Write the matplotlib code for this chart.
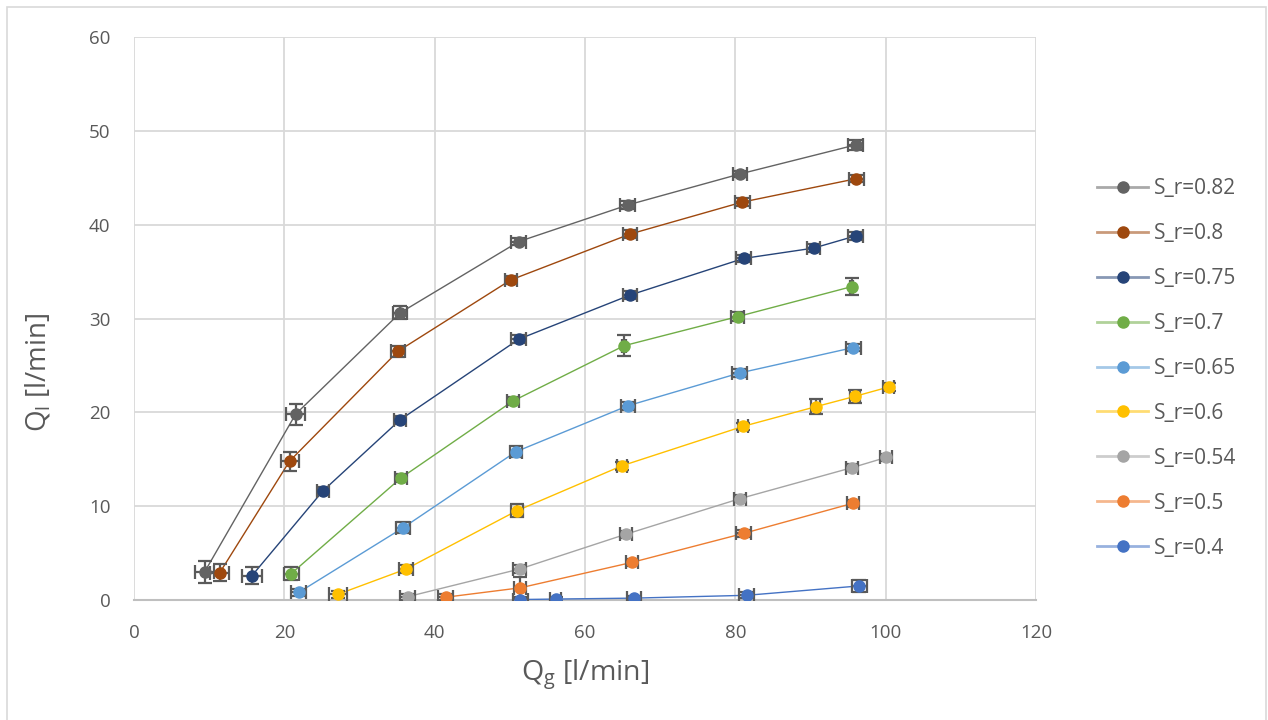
import matplotlib
matplotlib.use("Agg")
import matplotlib.pyplot as plt
from matplotlib.patches import Rectangle
from matplotlib.lines import Line2D

plt.rcParams['font.family'] = ['Open Sans', 'DejaVu Sans']
plt.rcParams['mathtext.fontset'] = 'custom'
plt.rcParams['mathtext.rm'] = 'Open Sans'
plt.rcParams['mathtext.it'] = 'Open Sans'

labels = ["S_r=0.82", "S_r=0.8", "S_r=0.75", "S_r=0.7", "S_r=0.65",
          "S_r=0.6", "S_r=0.54", "S_r=0.5", "S_r=0.4"]
colors = ["#636363", "#9E480E", "#264478", "#70AD47", "#5B9BD5",
          "#FFC000", "#A5A5A5", "#ED7D31", "#4472C4"]

# gas flow rate Qg [l/min]
qg_082 = [9.4, 21.5, 35.4, 51.2, 65.7, 80.6, 96.0]
qg_080 = [11.4, 20.7, 35.1, 50.1, 66.0, 80.9, 96.1]
qg_075 = [15.7, 25.1, 35.4, 51.2, 66.0, 81.1, 90.4, 96.0]
qg_070 = [20.9, 35.5, 50.4, 65.2, 80.3, 95.5]
qg_065 = [21.9, 35.8, 50.8, 65.7, 80.6, 95.7]
qg_060 = [27.1, 36.2, 50.9, 64.9, 81.0, 90.7, 95.9, 100.4]
qg_054 = [36.4, 51.3, 65.4, 80.6, 95.5, 100.1]
qg_050 = [41.5, 51.4, 66.2, 81.1, 95.6]
qg_040 = [51.4, 56.1, 66.5, 81.5, 96.5]

# liquid flow rate Ql [l/min]
ql_082 = [3.0, 19.8, 30.6, 38.2, 42.1, 45.4, 48.5]
ql_080 = [2.9, 14.8, 26.5, 34.1, 39.0, 42.4, 44.9]
ql_075 = [2.6, 11.6, 19.2, 27.8, 32.5, 36.4, 37.5, 38.8]
ql_070 = [2.8, 13.0, 21.2, 27.1, 30.2, 33.4]
ql_065 = [0.8, 7.7, 15.8, 20.7, 24.2, 26.9]
ql_060 = [0.6, 3.3, 9.5, 14.3, 18.5, 20.6, 21.7, 22.7]
ql_054 = [0.35, 3.3, 7.0, 10.8, 14.1, 15.2]
ql_050 = [0.3, 1.3, 4.0, 7.1, 10.3]
ql_040 = [0.05, 0.1, 0.2, 0.5, 1.5]

# error estimates in Qg
xerr_082 = [1.3, 1.3, 0.9, 1.0, 1.0, 0.9, 1.0]
xerr_080 = [1.3, 1.2, 0.9, 0.8, 0.9, 1.0, 1.0]
xerr_075 = [1.3, 0.8, 0.8, 1.0, 0.9, 1.0, 0.8, 1.0]
xerr_070 = [1.0, 0.8, 0.8, 0.3, 0.9, 0.2]
xerr_065 = [1.0, 0.9, 0.8, 0.9, 1.0, 1.0]
xerr_060 = [1.2, 0.9, 0.8, 0.7, 0.7, 0.6, 0.7, 0.7]
xerr_054 = [1.0, 0.9, 0.8, 0.8, 0.8, 0.8]
xerr_050 = [1.0, 0.8, 0.8, 1.0, 0.8]
xerr_040 = [1.0, 0.7, 0.9, 1.0, 1.0]

# error estimates in Ql
yerr_082 = [1.2, 1.1, 0.7, 0.4, 0.4, 0.3, 0.5]
yerr_080 = [0.9, 1.0, 0.6, 0.4, 0.4, 0.4, 0.4]
yerr_075 = [0.9, 0.4, 0.4, 0.4, 0.4, 0.4, 0.4, 0.4]
yerr_070 = [0.7, 0.4, 0.4, 1.1, 0.5, 0.9]
yerr_065 = [0.4, 0.6, 0.6, 0.4, 0.4, 0.4]
yerr_060 = [0.4, 0.4, 0.7, 0.4, 0.4, 0.8, 0.7, 0.4]
yerr_054 = [0.3, 0.4, 0.4, 0.4, 0.4, 0.4]
yerr_050 = [0.3, 1.1, 0.4, 0.4, 0.4]
yerr_040 = [0.3, 0.2, 0.2, 0.3, 0.6]

xs = [qg_082, qg_080, qg_075, qg_070, qg_065, qg_060, qg_054, qg_050, qg_040]
ys = [ql_082, ql_080, ql_075, ql_070, ql_065, ql_060, ql_054, ql_050, ql_040]
xerrs = [xerr_082, xerr_080, xerr_075, xerr_070, xerr_065, xerr_060, xerr_054, xerr_050, xerr_040]
yerrs = [yerr_082, yerr_080, yerr_075, yerr_070, yerr_065, yerr_060, yerr_054, yerr_050, yerr_040]

W, H = 1268, 720
fig = plt.figure(figsize=(W / 100, H / 100), dpi=100)
fig.patch.set_facecolor("white")
ax = fig.add_axes([134 / W, 1 - 600 / H, (1036 - 134) / W, (600 - 37) / H])

text_col = "#595959"
grid_col = "#d9d9d9"

handles = []
for x, y, xe, ye, c in zip(xs, ys, xerrs, yerrs, colors):
    ax.plot(x, y, '-', color=c, lw=1.0, zorder=3)
    ax.errorbar(x, y, xerr=xe, yerr=ye, fmt='none', ecolor="#5a5a5a",
                elinewidth=1.6, capsize=5, capthick=1.6, zorder=4)
    ax.plot(x, y, 'o', color=c, ms=8, mec=c, zorder=5)
    handles.append((Line2D([], [], color=c, lw=2.0, alpha=0.55),
                    Line2D([], [], ls='none', marker='o', color=c, ms=8)))

ax.set_xlim(0, 120)
ax.set_ylim(0, 60)
ax.set_xticks(range(0, 121, 20))
ax.set_yticks(range(0, 61, 10))
ax.grid(True, color=grid_col, lw=1.3, zorder=0)
ax.set_axisbelow(True)
for s in ["top", "right", "left"]:
    ax.spines[s].set_visible(False)
ax.spines["bottom"].set_color("#bfbfbf")
ax.spines["bottom"].set_linewidth(1.5)
ax.tick_params(length=0, labelsize=13.5, labelcolor=text_col)
ax.tick_params(axis='x', pad=17)
ax.tick_params(axis='y', pad=17)

fig.text(585 / W, 1 - 675 / H, r"Q$_{\mathrm{g}}$ [l/min]", ha="center", va="center",
         fontsize=20.5, color=text_col)
fig.text(38 / W, 1 - 372 / H, r"Q$_{\mathrm{l}}$ [l/min]", ha="center", va="center",
         rotation=90, fontsize=20, color=text_col)

leg = fig.legend(handles, labels, loc="upper left",
                 bbox_to_anchor=(1097 / W, 1 - 178 / H),
                 frameon=False, fontsize=15, labelcolor=text_col,
                 handlelength=2.45, handletextpad=0.3, labelspacing=1.15,
                 borderaxespad=0, borderpad=0)

fig.patches.append(Rectangle((7 / W, -0.01), (1266 - 7) / W, 1 - 7 / H + 0.01,
                             transform=fig.transFigure, fill=False,
                             edgecolor="#d9d9d9", lw=1.2))

fig.savefig("out.png", dpi=100)
